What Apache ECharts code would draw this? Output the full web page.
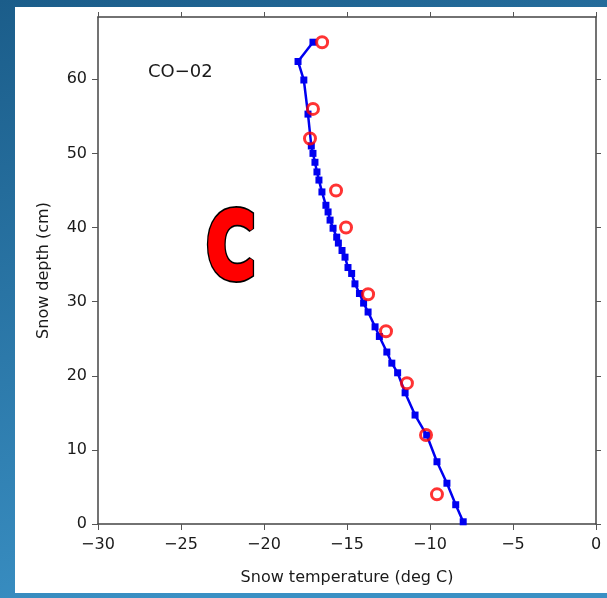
<!DOCTYPE html>
<html>
<head>
<meta charset="utf-8">
<script src="https://cdn.jsdelivr.net/npm/echarts@6/dist/echarts.min.js"></script>
<style>
  html, body { margin: 0; padding: 0; }
  #chart { width: 607px; height: 598px; }
</style>
</head>
<body>
<div id="chart"></div>
<script>
// Snow temperature profile, site CO-02
// Modelled profile (blue line with squares): depth (cm) and temperature (deg C)
const modelDepth = [65.0, 62.4, 59.9, 55.3, 51.0, 50.0, 48.8, 47.5, 46.4, 44.8, 43.0, 42.1, 41.0,
  39.9, 38.7, 37.9, 36.9, 36.0, 34.6, 33.8, 32.4, 31.1, 29.8, 28.6, 26.6, 25.3, 23.2, 21.7,
  20.4, 17.7, 14.7, 12.0, 8.4, 5.5, 2.6, 0.3];
const modelTemp = [-17.05, -17.95, -17.6, -17.35, -17.15, -17.05, -16.93, -16.81, -16.69, -16.51,
  -16.27, -16.14, -16.02, -15.84, -15.62, -15.52, -15.30, -15.12, -14.94, -14.72, -14.52, -14.25,
  -14.00, -13.73, -13.31, -13.05, -12.60, -12.30, -11.95, -11.50, -10.90, -10.20, -9.58, -8.98,
  -8.45, -8.00];

// Measured temperatures (red open circles)
const obsDepth = [65, 56, 52, 45, 40, 31, 26, 19, 12, 4];
const obsTemp = [-16.5, -17.05, -17.23, -15.66, -15.06, -13.73, -12.65, -11.39, -10.24, -9.58];

// Axis ticks
const xTicks = [-30, -25, -20, -15, -10, -5, 0];
const yTicks = [0, 10, 20, 30, 40, 50, 60];

const siteLabel = 'CO\u221202';
const panelLetter = 'C';

const FONT = 'DejaVu Sans';
const minus = v => String(v).replace('-', '\u2212');

const chart = echarts.init(document.getElementById('chart'), null, { renderer: 'canvas' });

const axisLine = { show: true, onZero: false, lineStyle: { color: '#444', width: 1.5 } };
const axisTick = { show: true, inside: false, length: 6, lineStyle: { color: '#555', width: 1 } };

chart.setOption({
  animation: false,
  backgroundColor: {
    type: 'linear', x: 0, y: 0, x2: 0.3, y2: 1,
    colorStops: [{ offset: 0, color: '#1b5d8a' }, { offset: 1, color: '#3a90c4' }]
  },
  graphic: [
    { type: 'rect', z: -10, silent: true, shape: { x: 15, y: 7, width: 592, height: 586 }, style: { fill: '#ffffff' } },
    {
      type: 'text', z: 100, left: 148, top: 63,
      style: { text: siteLabel, font: '18px "' + FONT + '"', fill: '#1a1a1a' }
    },
    {
      type: 'text', z: 100, x: 231, y: 255, scaleX: 0.74,
      style: {
        text: panelLetter, font: 'bold 90px "' + FONT + '"', fill: '#000', stroke: '#000',
        lineWidth: 8, lineJoin: 'round', align: 'center', verticalAlign: 'middle'
      }
    },
    {
      type: 'text', z: 101, x: 231, y: 255, scaleX: 0.74,
      style: {
        text: panelLetter, font: 'bold 90px "' + FONT + '"', fill: '#ff0000', stroke: '#ff0000',
        lineWidth: 4.5, lineJoin: 'round', align: 'center', verticalAlign: 'middle'
      }
    }
  ],
  grid: { left: 98, right: 11, top: 17, bottom: 74, containLabel: false },
  xAxis: [
    {
      type: 'value', position: 'bottom', min: -30, max: 0, interval: 5,
      axisLine, axisTick, splitLine: { show: false },
      axisLabel: {
        customValues: xTicks, formatter: minus, fontFamily: FONT, fontSize: 16, color: '#1a1a1a', margin: 13
      },
      name: 'Snow temperature (deg C)', nameLocation: 'middle', nameGap: 46,
      nameTextStyle: { fontFamily: FONT, fontSize: 16, color: '#1a1a1a' }
    },
    {
      type: 'value', position: 'top', min: -30, max: 0, interval: 5,
      axisLine, axisTick: Object.assign({}, axisTick, { length: 5 }),
      axisLabel: { show: false }, splitLine: { show: false }
    }
  ],
  yAxis: [
    {
      type: 'value', position: 'left', min: 0, max: 68.4, interval: 10,
      axisLine, splitLine: { show: false },
      axisTick: Object.assign({}, axisTick, { customValues: yTicks }),
      axisLabel: {
        customValues: yTicks, fontFamily: FONT, fontSize: 16, color: '#1a1a1a', margin: 11
      },
      name: 'Snow depth (cm)', nameLocation: 'middle', nameGap: 46,
      nameTextStyle: { fontFamily: FONT, fontSize: 16, color: '#1a1a1a' }
    },
    {
      type: 'value', position: 'right', min: 0, max: 68.4, interval: 10,
      axisLine, splitLine: { show: false },
      axisTick: Object.assign({}, axisTick, { customValues: yTicks, length: 5 }),
      axisLabel: { show: false }
    }
  ],
  series: [
    {
      type: 'line', xAxisIndex: 0, yAxisIndex: 0,
      data: modelTemp.map((t, i) => [t, modelDepth[i]]),
      symbol: 'rect', symbolSize: 7, showSymbol: true,
      lineStyle: { color: '#0000f0', width: 2.5 },
      itemStyle: { color: '#0000f0' },
      z: 3
    },
    {
      type: 'scatter', xAxisIndex: 0, yAxisIndex: 0,
      data: obsTemp.map((t, i) => [t, obsDepth[i]]),
      symbol: 'circle', symbolSize: 11,
      itemStyle: { color: 'rgba(0,0,0,0)', borderColor: '#ff0000', borderWidth: 3 },
      z: 5
    }
  ]
});
</script>
</body>
</html>
